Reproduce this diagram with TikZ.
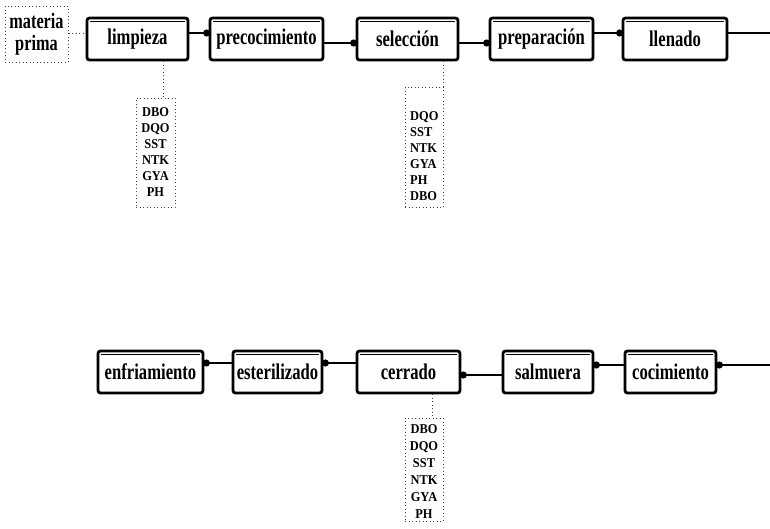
\documentclass[tikz,border=0pt]{standalone}
\usepackage{fontspec}
\setmainfont{Liberation Serif}
\newfontfamily\stagefont{Liberation Serif}[FakeStretch=0.74]
\newfontfamily\paramfont{Liberation Serif}[FakeStretch=0.92]
\usetikzlibrary{arrows.meta}

\tikzset{
  stage/.style={draw, line width=2.8pt, rounded corners=2.5pt, minimum height=42pt,
    inner sep=0pt, font=\stagefont\bfseries\fontsize{22.5}{23}\selectfont},
  flow/.style={line width=1.8pt, -{Circle[length=7pt]}, shorten >=-1.5pt},
  dotline/.style={line width=1pt, black!75, dash pattern=on 1pt off 2.5pt},
  listbox/.style={draw=black!75, dash pattern=on 1pt off 2.5pt, line width=1pt, inner sep=0pt},
  listtxt/.style={font=\paramfont\bfseries\fontsize{13.5}{16}\selectfont, inner sep=0pt},
}

\begin{document}
\begin{tikzpicture}[x=1pt, y=-1pt]
\useasboundingbox (0,0) rectangle (770,528);

% raw material
\node[listbox, minimum width=63pt, minimum height=56pt, align=center,
      font=\stagefont\bfseries\fontsize{22}{22}\selectfont] (mp) at (36.5,34) {materia\\prima};

% upper line of stages
\node[stage, minimum width=101pt] (limp)  at (137.5,39) {limpieza};
\node[stage, minimum width=113pt] (preco) at (266.5,39) {precocimiento};
\node[stage, minimum width=101pt] (sel)   at (407.5,39) {selección};
\node[stage, minimum width=103pt] (prep)  at (541.5,39) {preparación};
\node[stage, minimum width=104pt] (llen)  at (675,39)   {llenado};

% lower line of stages
\node[stage, minimum width=105pt] (enf) at (150.5,372) {enfriamiento};
\node[stage, minimum width=89pt]  (est) at (277.5,372) {esterilizado};
\node[stage, minimum width=103pt] (cer) at (408.5,372) {cerrado};
\node[stage, minimum width=90pt]  (sal) at (548,372)   {salmuera};
\node[stage, minimum width=91pt]  (coc) at (670.5,372) {cocimiento};

% inner top rule of each stage box
\foreach \n in {limp,preco,sel,prep,llen,enf,est,cer,sal,coc}
  \draw[line width=0.7pt] ([shift={(4pt,-4.5pt)}]\n.north west) -- ([shift={(-4pt,-4.5pt)}]\n.north east);

% free ends at the right margin
\coordinate (outtop) at (770,33);
\coordinate (inbot)  at (770,365);

% flow, upper line (left to right)
\draw[dotline] (mp.east |- 0,33) -- (limp.west |- 0,33);
\draw[flow] ([yshift=6pt]limp.east) -- ([yshift=6pt]preco.west);
\draw[flow] ([yshift=-4pt]preco.east) -- ([yshift=-4pt]sel.west);
\draw[flow] ([yshift=-4pt]sel.east) -- ([yshift=-4pt]prep.west);
\draw[flow] ([yshift=6pt]prep.east) -- ([yshift=6pt]llen.west);
\draw[line width=1.8pt] ([yshift=6pt]llen.east) -- (outtop);

% flow, lower line (right to left)
\draw[flow] (inbot) -- (coc.east |- inbot);
\draw[flow] ([yshift=7pt]coc.west) -- ([yshift=7pt]sal.east);
\draw[flow] ([yshift=-3pt]sal.west) -- ([yshift=-3pt]cer.east);
\draw[flow] ([yshift=9pt]cer.west) -- ([yshift=9pt]est.east);
\draw[flow] ([yshift=9pt]est.west) -- ([yshift=9pt]enf.east);

% effluent parameters
\node[listbox, minimum width=39pt, minimum height=109pt] (limpbox) at (155.5,152.5) {};
\node[listtxt, align=center] (limptxt) at (155.5,152) {DBO\\DQO\\SST\\NTK\\GYA\\PH};
\coordinate (limpjoin) at (163,0);
\draw[dotline] (limp.south -| limpjoin) -- (limpbox.north -| limpjoin);

\node[listbox, minimum width=38pt, minimum height=120pt] (selbox) at (424,147) {};
\node[listtxt, align=left, anchor=west] (seltxt) at (410,156) {DQO\\SST\\NTK\\GYA\\PH\\DBO};
\draw[dotline] (sel.south -| selbox.north east) -- (selbox.north east);

\node[listbox, minimum width=38pt, minimum height=103pt] (cerbox) at (424,469.5) {};
\node[listtxt, align=center, font=\paramfont\bfseries\fontsize{13.5}{17}\selectfont] (certxt) at (424,472) {DBO\\DQO\\SST\\NTK\\GYA\\PH};
\coordinate (cerjoin) at (432,0);
\draw[dotline] (cer.south -| cerjoin) -- (cerbox.north -| cerjoin);
\end{tikzpicture}
\end{document}
